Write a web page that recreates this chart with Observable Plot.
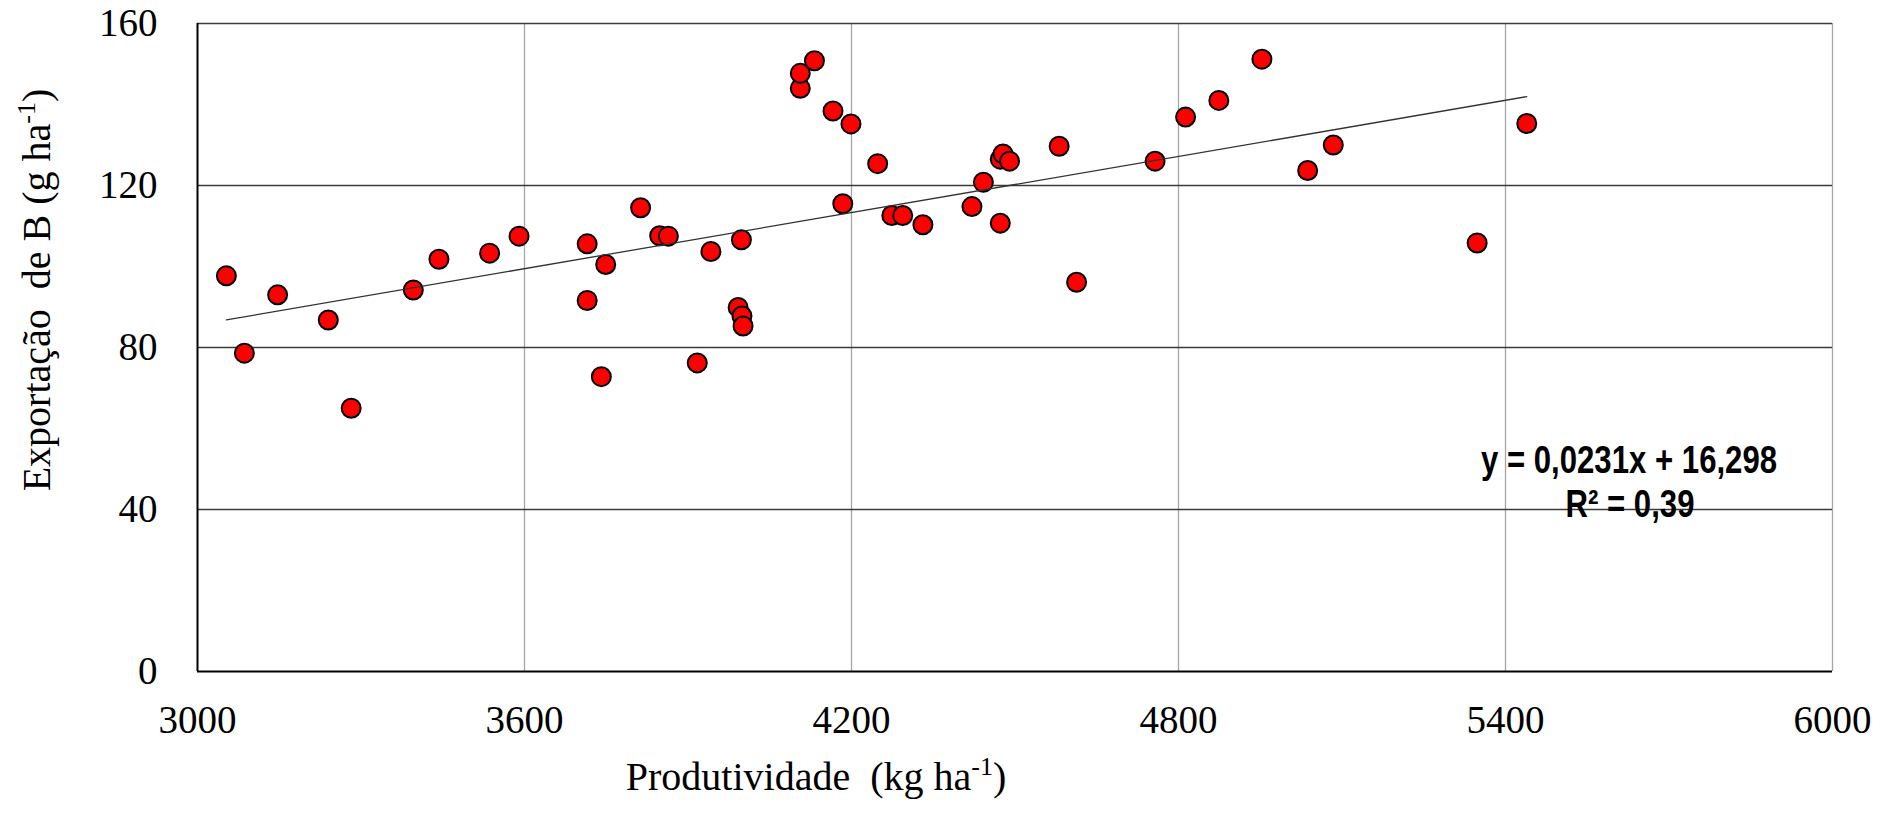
<!DOCTYPE html>
<html>
<head>
<meta charset="utf-8">
<script src="https://cdn.jsdelivr.net/npm/d3@7"></script>
<script src="https://cdn.jsdelivr.net/npm/@observablehq/plot@0.6"></script>
<style>
  html, body { margin: 0; padding: 0; background: #fff; }
  #chart svg { display: block; }
</style>
</head>
<body>
<div id="chart"></div>
<script>
// Produtividade (kg/ha) and exportação de B (g/ha) per sampled plot
const produtividade = [
  3053, 3086, 3147, 3240, 3282, 3396, 3443, 3536, 3590, 3715,
  3715, 3741, 3749, 3813, 3848, 3864, 3917, 3942, 3992, 3999,
  4001, 3998, 4106, 4106, 4132, 4166, 4184, 4199, 4248, 4274,
  4294, 4331, 4421, 4442, 4473, 4473, 4478, 4490, 4581, 4613,
  4757, 4813, 4874, 4953, 5037, 5084, 5348, 5439
];
const exportacaoB = [
  97.7, 78.6, 93.0, 86.8, 65.0, 94.2, 101.8, 103.3, 107.5, 105.6,
  91.6, 72.8, 100.5, 114.5, 107.6, 107.5, 76.2, 103.7, 89.9, 87.8,
  85.3, 106.6, 144.0, 147.7, 150.8, 138.4, 115.5, 135.2, 125.4, 112.6,
  112.6, 110.3, 114.8, 120.8, 110.7, 126.5, 127.8, 126.0, 129.7, 96.1,
  126.0, 136.9, 141.0, 151.2, 123.7, 130.0, 105.8, 135.3
];

// Axis ticks
const xTicks = [3000, 3600, 4200, 4800, 5400, 6000];
const yTicks = [0, 40, 80, 120, 160];

// Linear fit reported on the chart
const slope = 0.0231;
const intercept = 16.298;
const rSquared = 0.39;

const points = produtividade.map((x, i) => ({x, y: exportacaoB[i]}));
const [xMin, xMax] = d3.extent(produtividade);
const trend = [xMin, xMax].map(x => ({x, y: slope * x + intercept}));

const decimal = v => String(v).replace(".", ",");
const eqText = `y = ${decimal(slope)}x + ${decimal(intercept)}`;
const r2Text = `R² = ${decimal(rSquared)}`;

const serif = "'Liberation Serif', 'Times New Roman', serif";
const sans = "'Liberation Sans', Arial, sans-serif";

const plot = Plot.plot({
  width: 1883,
  height: 814,
  marginLeft: 197,
  marginRight: 51,
  marginTop: 23,
  marginBottom: 143,
  style: {fontFamily: serif, fontSize: "39px", color: "#000", background: "#fff", overflow: "visible"},
  x: {domain: [3000, 6000]},
  y: {domain: [0, 160]},
  marks: [
    Plot.gridX(xTicks.slice(1), {stroke: "#a6a6a6", strokeOpacity: 1, strokeWidth: 1.3}),
    Plot.gridY(yTicks.slice(1), {stroke: "#3a3a3a", strokeOpacity: 1, strokeWidth: 1.6}),
    Plot.ruleY([0], {stroke: "#000", strokeWidth: 2}),
    Plot.ruleX([3000], {stroke: "#000", strokeWidth: 2}),
    Plot.axisX(xTicks, {tickSize: 0, tickPadding: 34, label: null, tickFormat: d3.format("d")}),
    Plot.axisY(yTicks, {tickSize: 0, tickPadding: 40, label: null, tickFormat: d3.format("d")}),
    Plot.dot(points, {x: "x", y: "y", r: 9.5, fill: "#ff0000", stroke: "#000", strokeWidth: 2}),
    Plot.line(trend, {x: "x", y: "y", stroke: "#333", strokeWidth: 1.3})
  ]
});

const svg = d3.select(plot);

// Axis titles with superscript units
function unitTitle(g, text) {
  const t = g.append("text")
    .attr("text-anchor", "middle")
    .attr("font-family", serif)
    .attr("font-size", 40)
    .attr("fill", "#000")
    .style("white-space", "pre");
  t.append("tspan").text(text);
  t.append("tspan").attr("font-size", 26).attr("dy", -15).text("-1");
  t.append("tspan").attr("dy", 15).text(")");
  return t;
}

unitTitle(svg.append("g").attr("transform", "translate(816,790)"), "Produtividade  (kg ha");
unitTitle(svg.append("g").attr("transform", "translate(50,290) rotate(-90)"), "Exportação  de B (g ha");

// Regression equation and coefficient of determination
const eq = svg.append("g")
  .attr("font-family", sans)
  .attr("font-weight", "bold")
  .attr("font-size", 38)
  .attr("fill", "#000")
  .attr("text-anchor", "middle");
eq.append("text").attr("transform", "translate(1629,473) scale(0.82,1)").text(eqText);
eq.append("text").attr("transform", "translate(1630,517) scale(0.82,1)").text(r2Text);

document.getElementById("chart").appendChild(plot);
</script>
</body>
</html>
